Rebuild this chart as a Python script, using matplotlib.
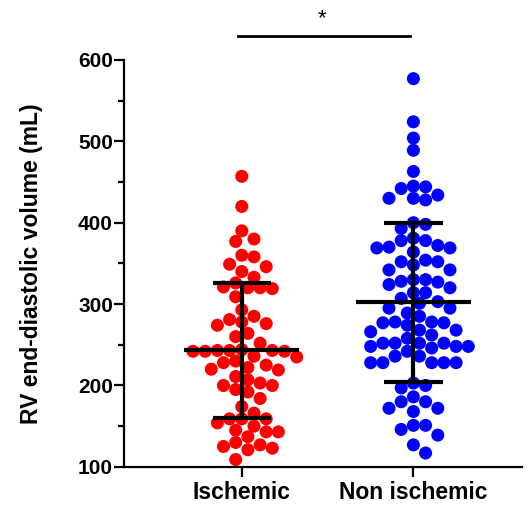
import numpy as np
import matplotlib
matplotlib.use("Agg")
import matplotlib.pyplot as plt
from matplotlib.ticker import MultipleLocator

plt.rcParams['font.family'] = ['Liberation Sans', 'DejaVu Sans']

groups = ["Ischemic", "Non ischemic"]
colors = ["#ff0000", "#0000ff"]

ischemic = [457, 420, 390, 380, 377, 360, 358, 349, 346, 340, 333,
            326, 321, 320, 320, 319, 309, 293,
            285, 281, 278, 276, 274, 264, 260, 252,
            244, 243, 243, 243, 242, 242, 242, 236, 235,
            230, 228, 225, 222, 220, 219, 211,
            207, 203, 200, 200, 195, 192, 184, 174,
            166, 159, 159, 159, 154, 150, 145, 143, 143, 137,
            130, 127, 125, 123, 121, 109]

non_ischemic = [577, 524, 504, 489, 463,
                445, 444, 442, 434, 430, 430, 428,
                400, 398, 393, 381, 378, 378, 372, 370, 369, 369, 364,
                354, 352, 352, 348, 342, 342,
                330, 330, 328, 327, 324, 320, 314, 314, 307, 303, 301,
                295, 295, 289, 285, 278, 278, 277, 277, 274,
                268, 268, 266, 262, 258,
                252, 252, 252, 252, 248, 248, 248, 246, 242, 236, 236,
                228, 228, 228, 228, 228, 203, 200, 197, 186, 180, 180,
                172, 172, 168, 151, 151, 146, 139, 127, 117]

# summary (mean +/- SD)
group_mean = [243, 302]
group_sd = [83, 98]


def swarm_x(values, center, d_px, ax):
    # simple beeswarm in pixel space
    p0 = ax.transData.transform((0, 0))
    p1 = ax.transData.transform((1, 1))
    sx, sy = p1[0] - p0[0], p1[1] - p0[1]
    vals = np.asarray(values, dtype=float)
    xs = np.zeros(len(vals))
    placed = []
    cands = [0]
    for k in range(1, 12):
        cands += [k * 0.5, -k * 0.5]
    for i in np.argsort(vals)[::-1]:
        y = vals[i] * sy
        for c in cands:
            x = c * d_px
            if all((x - px) ** 2 + (y - py) ** 2 >= (0.98 * d_px) ** 2 for px, py in placed):
                break
        placed.append((x, y))
        xs[i] = center + x / sx
    return xs


fig = plt.figure(figsize=(5.28, 5.08), dpi=100)
ax = fig.add_axes([0.235, 0.081, 0.754, 0.801])
ax.set_xlim(-0.686, 1.634)
ax.set_ylim(100, 600)

for i, vals in enumerate([ischemic, non_ischemic]):
    xs = swarm_x(vals, i, 12.2, ax)
    ax.scatter(xs, vals, s=88, color=colors[i], edgecolors='none', zorder=2)
    m, sd = group_mean[i], group_sd[i]
    ax.plot([i - 0.335, i + 0.335], [m, m], color='black', lw=3, zorder=3, solid_capstyle='butt')
    ax.plot([i, i], [m - sd, m + sd], color='black', lw=3, zorder=3, solid_capstyle='butt')
    for yv in (m - sd, m + sd):
        ax.plot([i - 0.17, i + 0.17], [yv, yv], color='black', lw=3, zorder=3, solid_capstyle='butt')

# significance bar
ax.plot([-0.02, 0.98], [630, 630], color='black', lw=2, clip_on=False)
ax.text(0.47, 638, "*", ha='center', va='bottom', fontsize=16, clip_on=False)

ax.spines['top'].set_visible(False)
ax.spines['right'].set_visible(False)
ax.spines['left'].set_linewidth(1.6)
ax.spines['bottom'].set_linewidth(1.6)
ax.set_yticks([100, 200, 300, 400, 500, 600])
ax.yaxis.set_minor_locator(MultipleLocator(50))
ax.set_xticks([0, 1])
ax.set_xticklabels(groups)
ax.tick_params(axis='both', which='major', width=1.6, length=7)
ax.tick_params(axis='y', which='minor', width=1.6, length=4)
ax.tick_params(axis='y', labelsize=15, pad=1)
ax.tick_params(axis='x', labelsize=16.5, pad=3)
for lab in ax.get_xticklabels() + ax.get_yticklabels():
    lab.set_fontweight('bold')
ax.set_ylabel("RV end-diastolic volume (mL)", fontsize=16.5, fontweight='bold', labelpad=25)

fig.savefig("out.png", dpi=100)
